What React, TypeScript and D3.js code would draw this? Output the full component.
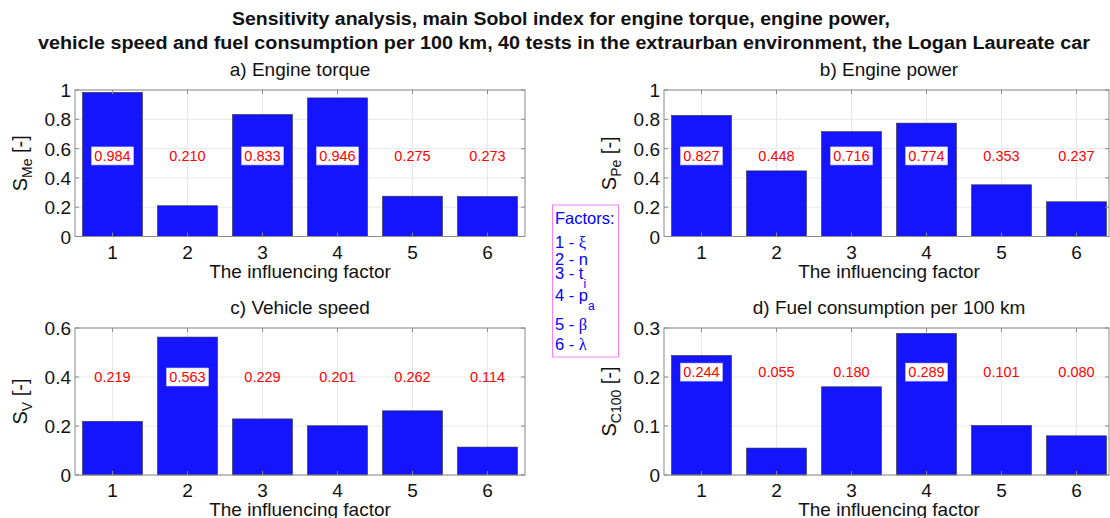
import React from "react";
import * as d3 from "d3";

// Sobol main indices per influencing factor (1..6)
const factors = [1, 2, 3, 4, 5, 6];
const torqueIdx = [0.984, 0.21, 0.833, 0.946, 0.275, 0.273];
const powerIdx = [0.827, 0.448, 0.716, 0.774, 0.353, 0.237];
const speedIdx = [0.219, 0.563, 0.229, 0.201, 0.262, 0.114];
const fuelIdx = [0.244, 0.055, 0.18, 0.289, 0.101, 0.08];

const ticksUnit = [0, 0.2, 0.4, 0.6, 0.8, 1];
const ticksSpeed = [0, 0.2, 0.4, 0.6];
const ticksFuel = [0, 0.1, 0.2, 0.3];

const legendItems = [
  { num: "1", sym: "ξ", sub: "", greek: true },
  { num: "2", sym: "n", sub: "", greek: false },
  { num: "3", sym: "t", sub: "i", greek: false },
  { num: "4", sym: "p", sub: "a", greek: false },
  { num: "5", sym: "β", sub: "", greek: true },
  { num: "6", sym: "λ", sub: "", greek: true },
];

const FONT = "'Liberation Sans', Arial, Helvetica, sans-serif";
const BAR = "#1414ff";
const FRAME = "#8a8a8a";
const GRID = "#e8e8e8";

interface PanelProps {
  left: number;
  right: number;
  top: number;
  bottom: number;
  frameRight?: number;
  values: number[];
  ticks: number[];
  title: string;
  ySub: string;
  labelLevel: number;
}

const Panel: React.FC<PanelProps> = ({
  left, right, top, bottom, frameRight, values, ticks, title, ySub, labelLevel,
}) => {
  const x = d3.scaleLinear().domain([0.5, 6.5]).range([left, right]);
  const y = d3.scaleLinear().domain([0, ticks[ticks.length - 1]]).range([bottom, top]);
  const bw = x(1.4) - x(0.6);
  const fr = frameRight ?? right;
  const fmt = (v: number) => (v === 0 ? "0" : d3.format("~g")(v));
  const tl = 4;

  return (
    <g fontFamily={FONT}>
      {/* grid */}
      {ticks.map((t) => (
        <line key={"gy" + t} x1={left} x2={fr} y1={y(t)} y2={y(t)} stroke={GRID} strokeWidth={1} />
      ))}
      {factors.map((f) => (
        <line key={"gx" + f} x1={x(f)} x2={x(f)} y1={top} y2={bottom} stroke={GRID} strokeWidth={1} />
      ))}
      {/* bars */}
      {values.map((v, i) => (
        <rect
          key={"b" + i}
          x={x(factors[i]) - bw / 2}
          y={y(v)}
          width={bw}
          height={bottom - y(v)}
          fill={BAR}
          stroke="#333"
          strokeWidth={0.6}
        />
      ))}
      {/* frame and ticks */}
      <rect x={left} y={top} width={fr - left} height={bottom - top} fill="none" stroke={FRAME} strokeWidth={1} />
      {ticks.map((t) => (
        <g key={"ty" + t}>
          <line x1={left} x2={left + tl} y1={y(t)} y2={y(t)} stroke={FRAME} />
          <line x1={fr - tl} x2={fr} y1={y(t)} y2={y(t)} stroke={FRAME} />
          <text x={left - 4} y={y(t) + 7} textAnchor="end" fontSize={19} fill="#111">
            {fmt(t)}
          </text>
        </g>
      ))}
      {factors.map((f) => (
        <g key={"tx" + f}>
          <line x1={x(f)} x2={x(f)} y1={bottom} y2={bottom - tl} stroke={FRAME} />
          <line x1={x(f)} x2={x(f)} y1={top} y2={top + tl} stroke={FRAME} />
          <text x={x(f)} y={bottom + 22} textAnchor="middle" fontSize={19} fill="#111">
            {f}
          </text>
        </g>
      ))}
      {/* value labels */}
      {values.map((v, i) => {
        const cx = x(factors[i]);
        const cy = y(labelLevel);
        return (
          <g key={"l" + i}>
            {v > labelLevel && (
              <rect x={cx - 21} y={cy - 9} width={42} height={18} fill="#fff" stroke="#c8c8e8" strokeWidth={0.6} />
            )}
            <text x={cx} y={cy + 5} textAnchor="middle" fontSize={14.5} fill="#ff0000">
              {d3.format(".3f")(v)}
            </text>
          </g>
        );
      })}
      {/* titles */}
      <text x={(left + right) / 2} y={top - 14} textAnchor="middle" fontSize={19} fill="#111">
        {title}
      </text>
      <text x={(left + right) / 2} y={bottom + 41} textAnchor="middle" fontSize={19} fill="#111">
        The influencing factor
      </text>
      <text
        transform={`translate(${left - 48},${(top + bottom) / 2}) rotate(-90)`}
        textAnchor="middle"
        fontSize={20}
        fill="#111"
      >
        S
        <tspan dy={5} fontSize={14}>{ySub}</tspan>
        <tspan dy={-5}> [-]</tspan>
      </text>
    </g>
  );
};

const Legend: React.FC = () => {
  const baselines = [247.5, 264.5, 279, 301, 330, 350];
  return (
    <g fontFamily={FONT} fill="#0000ff">
      <rect x={552.5} y={205} width={66} height={152} fill="#fff" stroke="#ff80ff" strokeWidth={1} />
      <text x={555} y={223.5} fontSize={16.5}>Factors:</text>
      {legendItems.map((it, i) => (
        <text key={it.num} x={555} y={baselines[i]} fontSize={16.5}>
          {it.num + " - "}
          <tspan fontFamily={it.greek ? "'Liberation Serif', 'Times New Roman', serif" : FONT}>{it.sym}</tspan>
          {it.sub && (
            <tspan dy={9} fontSize={12}>{it.sub}</tspan>
          )}
        </text>
      ))}
    </g>
  );
};

export default function App() {
  return (
    <svg
      width={1110}
      height={518}
      style={{ position: "absolute", left: 0, top: 0, background: "#fff" }}
    >
      <text
        x={561}
        y={25}
        textAnchor="middle"
        fontFamily={FONT}
        fontWeight="bold"
        fontSize={18}
        textLength={658}
        lengthAdjust="spacingAndGlyphs"
        fill="#111"
      >
        Sensitivity analysis, main Sobol index for engine torque, engine power,
      </text>
      <text
        x={564}
        y={49}
        textAnchor="middle"
        fontFamily={FONT}
        fontWeight="bold"
        fontSize={18}
        textLength={1052}
        lengthAdjust="spacingAndGlyphs"
        fill="#111"
      >
        vehicle speed and fuel consumption per 100 km, 40 tests in the extraurban environment, the Logan Laureate car
      </text>
      <Panel left={75} right={525} top={90} bottom={236.5} values={torqueIdx} ticks={ticksUnit}
        title="a) Engine torque" ySub="Me" labelLevel={0.55} />
      <Panel left={664} right={1114} frameRight={1109} top={90} bottom={236.5} values={powerIdx} ticks={ticksUnit}
        title="b) Engine power" ySub="Pe" labelLevel={0.55} />
      <Panel left={75} right={525} top={328} bottom={475} values={speedIdx} ticks={ticksSpeed}
        title="c) Vehicle speed" ySub="V" labelLevel={0.4} />
      <Panel left={664} right={1114} frameRight={1109} top={328} bottom={475} values={fuelIdx} ticks={ticksFuel}
        title="d) Fuel consumption per 100 km" ySub="C100" labelLevel={0.21} />
      <Legend />
    </svg>
  );
}
